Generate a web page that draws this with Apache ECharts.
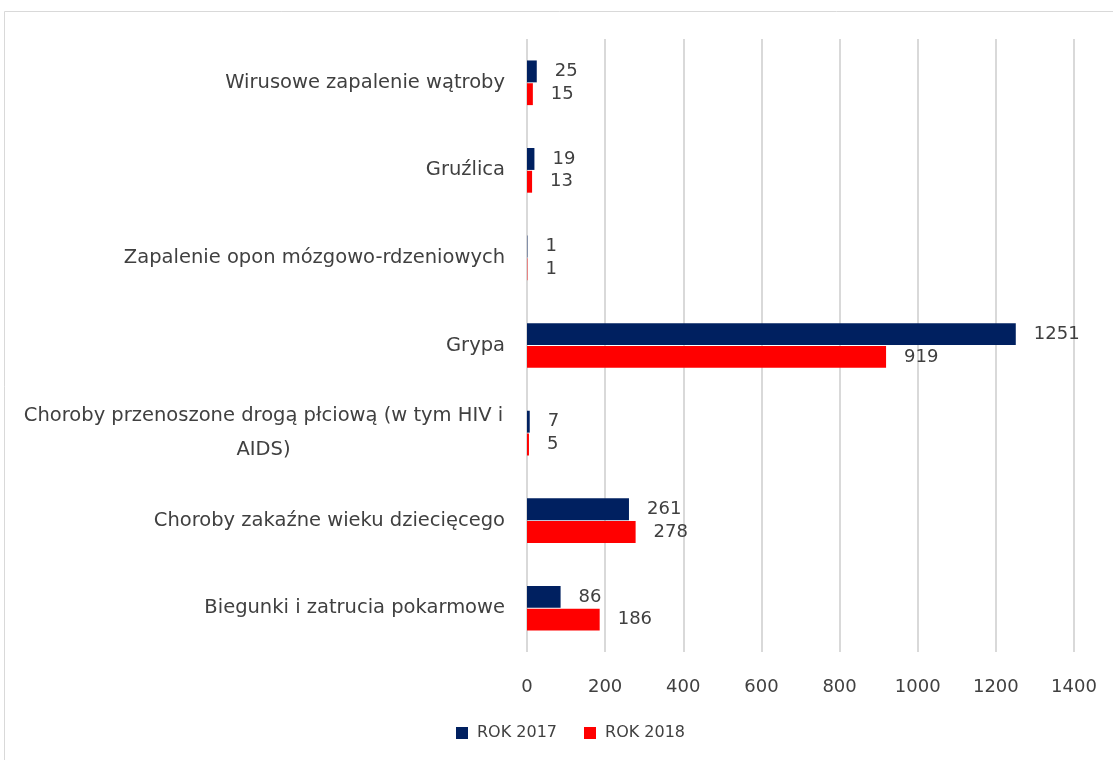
<!DOCTYPE html>
<html>
<head>
<meta charset="utf-8">
<script src="https://cdn.jsdelivr.net/npm/echarts@6/dist/echarts.min.js"></script>
<style>
  html, body { margin: 0; padding: 0; background: #fff; }
  #chart { width: 1113px; height: 760px; }
</style>
</head>
<body>
<div id="chart"></div>
<script>
// bottom to top, like the excel chart
const categories = [
  "Biegunki i zatrucia pokarmowe",
  "Choroby zakaźne wieku dziecięcego",
  "Choroby przenoszone drogą płciową (w tym HIV i AIDS)",
  "Grypa",
  "Zapalenie opon mózgowo-rdzeniowych",
  "Gruźlica",
  "Wirusowe zapalenie wątroby",
];
const rok2017 = [86, 261, 7, 1251, 1, 19, 25];
const rok2018 = [186, 278, 5, 919, 1, 13, 15];
const xTicks = { min: 0, max: 1400, interval: 200 };

const textColor = "#404040";
const font = "DejaVu Sans";

const chart = echarts.init(document.getElementById("chart"));

// long name wraps in two centered lines
const wrapLabel = (name) => {
  if (name.length > 40) {
    const cut = name.lastIndexOf(" ", 46);
    return "{c|" + name.slice(0, cut) + "}\n{c|" + name.slice(cut + 1) + "}";
  }
  return name;
};

const barLabel = {
  show: true,
  position: "right",
  distance: 18,
  color: textColor,
  fontFamily: font,
  fontSize: 18,
};

chart.setOption({
  backgroundColor: "#fff",
  animation: false,
  graphic: [
    {
      type: "rect",
      shape: { x: 4.5, y: 11.5, width: 1200, height: 900 },
      style: { fill: "none", stroke: "#d9d9d9", lineWidth: 1 },
      silent: true,
    },
  ],
  grid: { left: 527, right: 39, top: 39, bottom: 108 },
  legend: {
    bottom: 14,
    left: 451,
    itemWidth: 12,
    itemHeight: 12,
    itemGap: 27,
    icon: "rect",
    textStyle: { color: textColor, fontFamily: font, fontSize: 16, padding: [0, 0, 0, 4] },
    data: ["ROK 2017", "ROK 2018"],
  },
  xAxis: {
    type: "value",
    ...xTicks,
    axisLine: { show: false },
    axisTick: { show: false },
    axisLabel: {
      color: textColor,
      fontFamily: font,
      fontSize: 18,
      margin: 26,
      formatter: (v) => String(v),
    },
    splitLine: { lineStyle: { color: "#d9d9d9", width: 2 } },
  },
  yAxis: {
    type: "category",
    data: categories,
    axisLine: { show: false },
    axisTick: { show: false },
    axisLabel: {
      color: textColor,
      fontFamily: font,
      fontSize: 19.5,
      margin: 22,
      lineHeight: 34,
      formatter: wrapLabel,
      rich: {
        c: { width: 483, align: "center", color: textColor, fontFamily: font, fontSize: 19.5, lineHeight: 34 },
      },
    },
  },
  series: [
    {
      name: "ROK 2017",
      type: "bar",
      data: rok2017,
      itemStyle: { color: "#002060" },
      barGap: "4%",
      barCategoryGap: "49%",
      label: barLabel,
    },
    {
      name: "ROK 2018",
      type: "bar",
      data: rok2018,
      itemStyle: { color: "#ff0000" },
      label: barLabel,
    },
  ],
});
</script>
</body>
</html>
